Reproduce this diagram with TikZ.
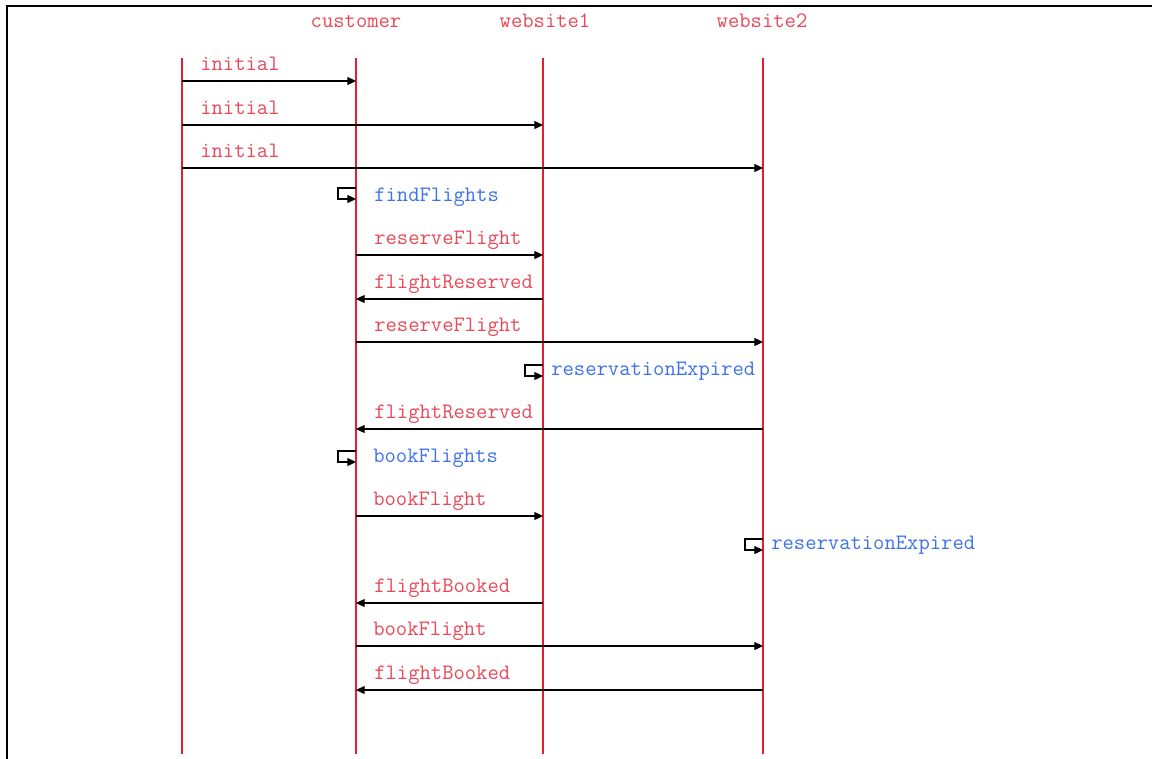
\documentclass[tikz,border=0pt]{standalone}
\usepackage{fontspec}
\usetikzlibrary{arrows.meta}
\definecolor{lifered}{RGB}{228,30,50}
\definecolor{msgred}{RGB}{232,72,88}
\definecolor{actblue}{RGB}{60,112,236}
\tikzset{
  lifeline/.style={draw=lifered, line width=1.1pt},
  msg/.style={draw=black, line width=0.9pt, -{Triangle[length=6.5pt,width=6pt]}},
  lbl/.style={anchor=base west, inner sep=0pt, font=\ttfamily\fontsize{16.5pt}{18pt}\selectfont},
  msglbl/.style={lbl, text=msgred},
  actlbl/.style={lbl, text=actblue},
  head/.style={anchor=base, inner sep=0pt, text=msgred, font=\ttfamily\fontsize{16.5pt}{18pt}\selectfont},
}
\begin{document}
\begin{tikzpicture}[x=0.75pt, y=-0.75pt]
\useasboundingbox (0,0) rectangle (1152,758);
% frame
\draw[line width=0.9pt] (7,762) -- (7,6) -- (1160,6);

% lifeline heads and lifelines
\node[head] (hc) at (356,27) {customer};
\node[head] (h1) at (545,27) {website1};
\node[head] (h2) at (762,27) {website2};
\foreach \n/\x in {e/182, c/356, w/543, v/763} {
  \coordinate (\n top) at (\x,58);
  \coordinate (\n bot) at (\x,754);
  \draw[lifeline] (\n top) -- (\n bot);
}

% message anchors on each lifeline
\foreach \n/\x in {e/182, c/356, w/543, v/763} {
  \foreach \k/\y in {1/81, 2/125, 3/168, 5/255, 6/299, 7/342, 9/429, 11/516, 13/603, 14/646, 15/690} {
    \coordinate (\n\k) at (\x,\y);
  }
}

% initial messages
\draw[msg] (e1) -- (c1);
\node[msglbl] (l1) at (200,70) {initial};
\draw[msg] (e2) -- (w2);
\node[msglbl] (l2) at (200,114) {initial};
\draw[msg] (e3) -- (v3);
\node[msglbl] (l3) at (200,157) {initial};

% self action: findFlights
\coordinate (s1a) at (356,188);
\coordinate (s1b) at (338,188);
\coordinate (s1c) at (338,199);
\coordinate (s1d) at (356,199);
\draw[msg] (s1a) -- (s1b) -- (s1c) -- (s1d);
\node[actlbl] (a1) at (374,201) {findFlights};

\draw[msg] (c5) -- (w5);
\node[msglbl] (l5) at (374,244) {reserveFlight};
\draw[msg] (w6) -- (c6);
\node[msglbl] (l6) at (374,288) {flightReserved};
\draw[msg] (c7) -- (v7);
\node[msglbl] (l7) at (374,331) {reserveFlight};

% self action: reservationExpired on website1
\coordinate (s2a) at (543,365);
\coordinate (s2b) at (525,365);
\coordinate (s2c) at (525,376);
\coordinate (s2d) at (543,376);
\draw[msg] (s2a) -- (s2b) -- (s2c) -- (s2d);
\node[actlbl] (a2) at (551,375) {reservationExpired};

\draw[msg] (v9) -- (c9);
\node[msglbl] (l9) at (374,418) {flightReserved};

% self action: bookFlights
\coordinate (s3a) at (356,451);
\coordinate (s3b) at (338,451);
\coordinate (s3c) at (338,462);
\coordinate (s3d) at (356,462);
\draw[msg] (s3a) -- (s3b) -- (s3c) -- (s3d);
\node[actlbl] (a3) at (373,462) {bookFlights};

\draw[msg] (c11) -- (w11);
\node[msglbl] (l11) at (373,505) {bookFlight};

% self action: reservationExpired on website2
\coordinate (s4a) at (763,539);
\coordinate (s4b) at (745,539);
\coordinate (s4c) at (745,550);
\coordinate (s4d) at (763,550);
\draw[msg] (s4a) -- (s4b) -- (s4c) -- (s4d);
\node[actlbl] (a4) at (771,549) {reservationExpired};

\draw[msg] (w13) -- (c13);
\node[msglbl] (l13) at (374,592) {flightBooked};
\draw[msg] (c14) -- (v14);
\node[msglbl] (l14) at (373,635) {bookFlight};
\draw[msg] (v15) -- (c15);
\node[msglbl] (l15) at (374,679) {flightBooked};
\end{tikzpicture}
\end{document}
